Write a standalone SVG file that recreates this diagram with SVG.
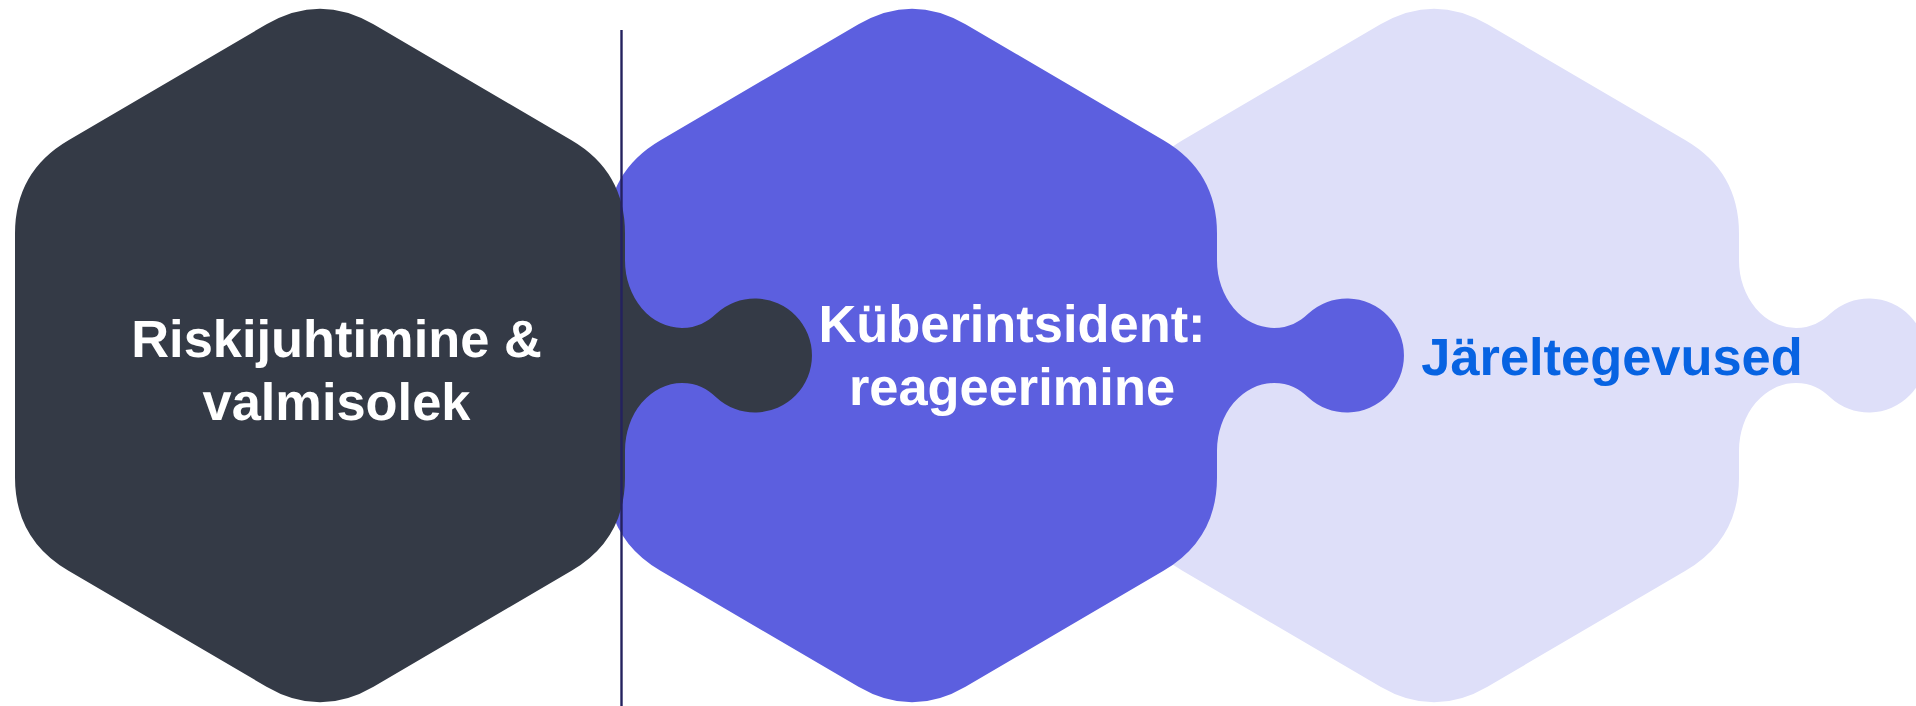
<svg xmlns="http://www.w3.org/2000/svg" xmlns:xlink="http://www.w3.org/1999/xlink" width="1916" height="706" viewBox="0 0 1916 706">
  <style>
    .lbl { font-family: "Liberation Sans", Arial, Helvetica, sans-serif; font-weight: bold; font-size: 52.4px; text-anchor: middle; text-rendering: geometricPrecision; }
    .white { fill: #ffffff; }
    .blue { fill: #0763e2; }
    .divider { stroke: #24215e; stroke-width: 2.4; fill: none; }
  </style>
  <defs>
    <path id="piece" d="M -53.5 24.3 Q 0 -7 53.5 24.3 L 251.5 140.2 Q 305 171.5 305 233.5 L 305 260.5 A 57 67.5 0 0 0 362 328 C 377 328 387.3 322 396.1 313.8 A 57 57 0 1 1 396.1 397.2 C 387.3 389 377 383 362 383 A 57 67.5 0 0 0 305 450.5 L 305 477.5 Q 305 539.5 251.5 570.8 L 53.5 686.7 Q 0 718 -53.5 686.7 L -251.5 570.8 Q -305 539.5 -305 477.5 L -305 233.5 Q -305 171.5 -251.5 140.2 Z"/>
  </defs>
  <g id="node-jareltegevused">
    <use xlink:href="#piece" href="#piece" x="1434" y="0" fill="#dedff9"/>
    <text class="lbl blue" x="1612" y="375">Järeltegevused</text>
  </g>
  <g id="node-kuberintsident">
    <use xlink:href="#piece" href="#piece" x="912" y="0" fill="#5c5fdf"/>
    <text class="lbl white" x="1012" y="342">Küberintsident:</text>
    <text class="lbl white" x="1012" y="405">reageerimine</text>
  </g>
  <g id="node-riskijuhtimine">
    <use xlink:href="#piece" href="#piece" x="320" y="0" fill="#343a46"/>
    <text class="lbl white" x="336.5" y="357">Riskijuhtimine &amp;</text>
    <text class="lbl white" x="336.5" y="420">valmisolek</text>
  </g>
  <g id="connectors">
    <line class="divider" x1="621.5" y1="30" x2="621.5" y2="706"/>
  </g>
</svg>
